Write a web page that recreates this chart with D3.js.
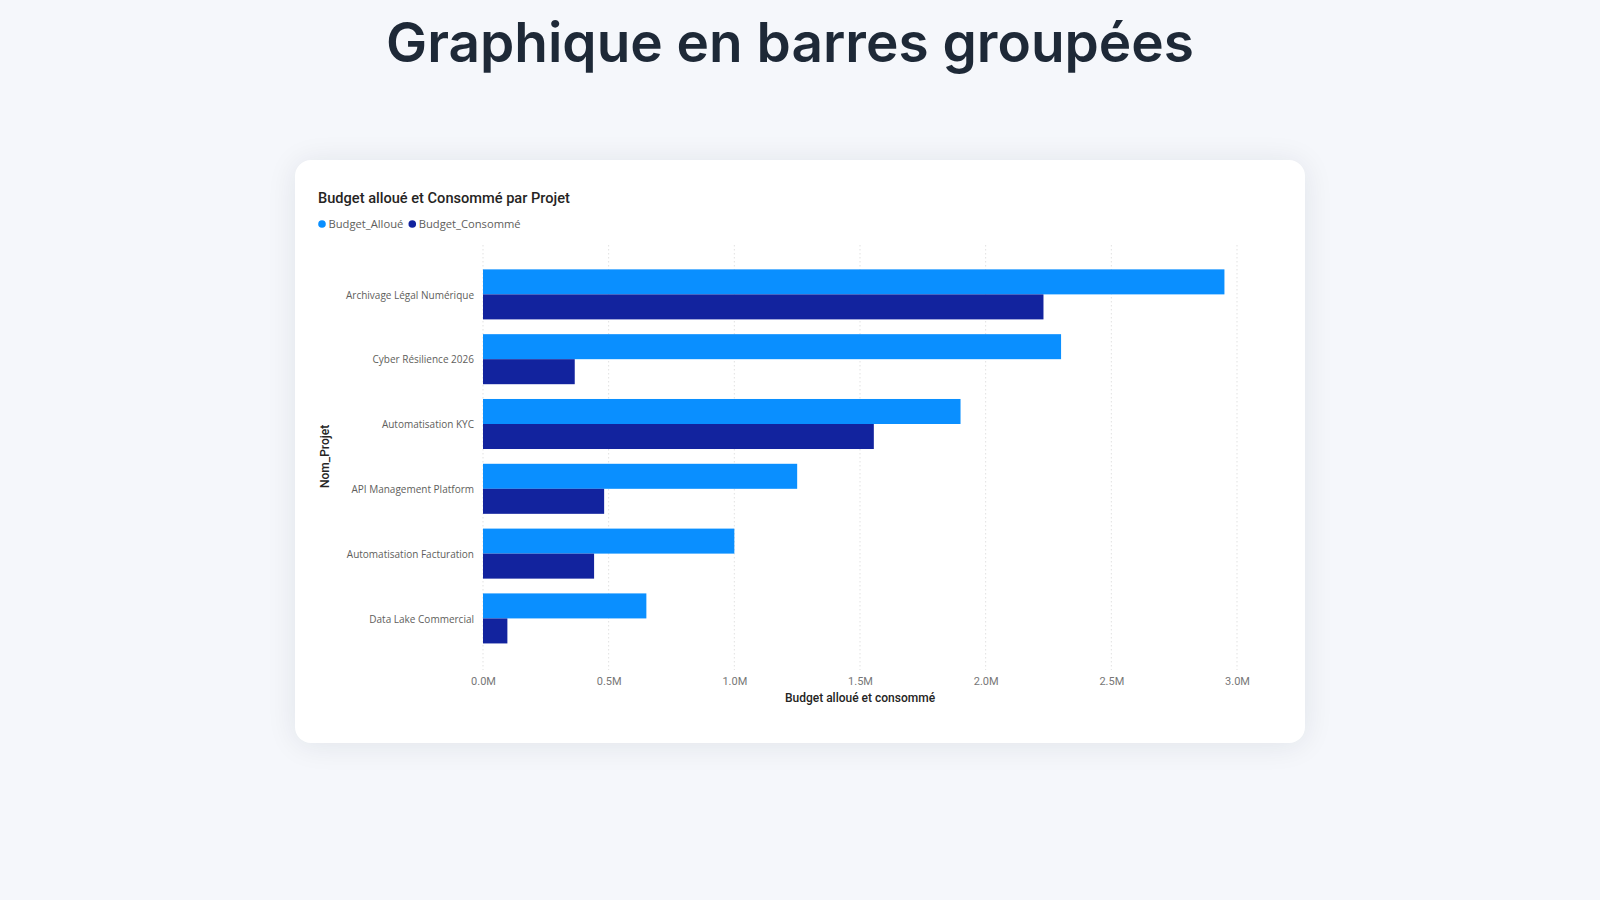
<!DOCTYPE html>
<html lang="fr">
<head>
<meta charset="utf-8">
<title>Graphique en barres groupées</title>
<script src="https://cdn.jsdelivr.net/npm/d3@7"></script>
<style>
    html, body {
        margin: 0;
        padding: 0;
        width: 1600px;
        height: 900px;
        overflow: hidden;
        background: #f5f7fb;
    }
    .card {
        position: absolute;
        left: 295px;
        top: 160px;
        width: 1010px;
        height: 583px;
        background: #ffffff;
        border-radius: 16px;
        box-shadow: 0 2px 30px rgba(20, 30, 60, 0.09);
    }
    #chart {
        position: absolute;
        left: 0;
        top: 0;
    }
</style>
</head>
<body>
<div class="card"></div>
<svg id="chart" width="1600" height="900"></svg>
<script>
// Data
const projets = [
    "Archivage Légal Numérique",
    "Cyber Résilience 2026",
    "Automatisation KYC",
    "API Management Platform",
    "Automatisation Facturation",
    "Data Lake Commercial",
];
const budgetAlloue = [2950000, 2300000, 1900000, 1250000, 1000000, 650000];
const budgetConsomme = [2230000, 365000, 1555000, 482000, 442000, 97000];
const seriesNames = ["Budget_Alloué", "Budget_Consommé"];
const seriesColors = ["#0a8fff", "#12239e"];
const xTickValues = [0, 500000, 1000000, 1500000, 2000000, 2500000, 3000000];

const svg = d3.select("#chart");

// Page title
const pageTitle = svg
    .append("text")
    .attr("x", 790)
    .attr("y", 62)
    .attr("text-anchor", "middle")
    .attr("fill", "#1e2937")
    .style("font-family", "Inter, 'Open Sans', sans-serif")
    .style("font-weight", 600)
    .style("font-size", "55px")
    .text("Graphique en barres groupées");
pageTitle.attr("textLength", 808).attr("lengthAdjust", "spacingAndGlyphs");

// Visual title
svg.append("text")
    .attr("x", 318)
    .attr("y", 203)
    .attr("fill", "#252423")
    .style("font-family", "Roboto, 'Open Sans', sans-serif")
    .style("font-weight", 500)
    .style("font-size", "14.6px")
    .text("Budget alloué et Consommé par Projet");

// Legend
const legend = svg.append("g").attr("transform", "translate(0,224)");
let legendX = 322;
seriesNames.forEach((name, i) => {
    legend.append("circle")
        .attr("cx", legendX)
        .attr("cy", 0)
        .attr("r", 3.8)
        .attr("fill", seriesColors[i]);
    const t = legend.append("text")
        .attr("x", legendX + 6.5)
        .attr("y", 4)
        .attr("fill", "#605e5c")
        .style("font-family", "'Open Sans', sans-serif")
        .style("font-size", "11.2px")
        .text(name);
    legendX += 6.5 + t.node().getComputedTextLength() + 9;
});

// Scales
const x = d3.scaleLinear().domain([0, 3000000]).range([483, 1237]);

const y = d3
    .scaleBand()
    .domain(projets)
    .range([256.4, 656.4])
    .paddingInner(0.228)
    .paddingOuter(0.2);

const ySub = d3
    .scaleBand()
    .domain(seriesNames)
    .range([0, y.bandwidth()]);

// Dotted gridlines
svg.append("g")
    .selectAll("line.grid")
    .data(xTickValues)
    .enter()
    .append("line")
    .attr("class", "grid")
    .attr("x1", (d) => x(d))
    .attr("x2", (d) => x(d))
    .attr("y1", 245)
    .attr("y2", 670)
    .attr("stroke", "#e1e1e1")
    .attr("stroke-width", 1)
    .attr("stroke-dasharray", "1.5,2.5");

// X axis tick labels
const xAxis = d3
    .axisBottom(x)
    .tickValues(xTickValues)
    .tickSize(0)
    .tickPadding(0)
    .tickFormat((d) => (d / 1e6).toFixed(1) + "M");

const xAxisG = svg.append("g").attr("transform", "translate(0,677)").call(xAxis);
xAxisG.select(".domain").remove();
xAxisG.selectAll("text")
    .attr("fill", "#777777")
    .style("font-family", "Roboto, sans-serif")
    .style("font-size", "11px");

// Y axis labels
const yAxis = d3.axisLeft(y).tickSize(0).tickPadding(0);
const yAxisG = svg.append("g").attr("transform", "translate(474,1)").call(yAxis);
yAxisG.select(".domain").remove();
yAxisG.selectAll("text")
    .attr("fill", "#605e5c")
    .style("font-family", "'Open Sans', sans-serif")
    .style("font-size", "10px");

// Grouped bars
const rows = projets.map((p, i) => ({
    projet: p,
    values: [
        { key: seriesNames[0], value: budgetAlloue[i] },
        { key: seriesNames[1], value: budgetConsomme[i] },
    ],
}));

const color = d3.scaleOrdinal().domain(seriesNames).range(seriesColors);

svg.append("g")
    .selectAll("g.row")
    .data(rows)
    .enter()
    .append("g")
    .attr("class", "row")
    .attr("transform", (d) => `translate(0,${y(d.projet)})`)
    .selectAll("rect")
    .data((d) => d.values)
    .enter()
    .append("rect")
    .attr("x", x(0))
    .attr("y", (d) => ySub(d.key))
    .attr("width", (d) => x(d.value) - x(0))
    .attr("height", ySub.bandwidth())
    .attr("fill", (d) => color(d.key));

// Axis titles
svg.append("text")
    .attr("x", (x.range()[0] + x.range()[1]) / 2)
    .attr("y", 702)
    .attr("text-anchor", "middle")
    .attr("fill", "#252423")
    .style("font-family", "Roboto, sans-serif")
    .style("font-weight", 500)
    .style("font-size", "12px")
    .text("Budget alloué et consommé");

svg.append("text")
    .attr("transform", `translate(329,${(y.range()[0] + y.range()[1]) / 2}) rotate(-90)`)
    .attr("text-anchor", "middle")
    .attr("fill", "#252423")
    .style("font-family", "Roboto, sans-serif")
    .style("font-weight", 500)
    .style("font-size", "12px")
    .text("Nom_Projet");
</script>
</body>
</html>
